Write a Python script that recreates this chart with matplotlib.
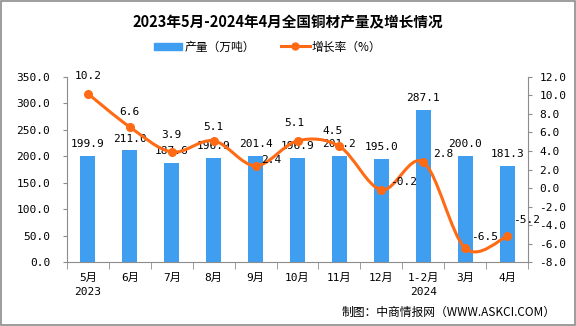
import matplotlib
matplotlib.use("Agg")
import matplotlib.pyplot as plt
import numpy as np
from matplotlib.path import Path
from matplotlib.patches import PathPatch, Patch, Rectangle
from matplotlib.lines import Line2D

plt.rcParams["font.family"] = ["DejaVu Sans Mono", "Noto Sans CJK SC"]

months = ["5月\n2023", "6月", "7月", "8月", "9月", "10月", "11月", "12月",
          "1-2月\n2024", "3月", "4月"]
output = [199.9, 211.0, 187.6, 196.9, 201.4, 196.9, 201.2, 195.0, 287.1, 200.0, 181.3]
growth = [10.2, 6.6, 3.9, 5.1, 2.4, 5.1, 4.5, -0.2, 2.8, -6.5, -5.2]

# label offsets for the growth labels (in points)
growth_offsets = [(0, 13), (0, 11), (0, 12), (0, 10), (11, 4), (-2, 13), (-5, 11),
                  (16, 6), (14, 6), (14, 8), (14, 12)]

BLUE = "#409EF0"
ORANGE = "#FF6A14"
GRAY = "#8c8c8c"


def smooth_path(xs, ys):
    # catmull-rom style bezier through the points
    pts = np.column_stack([xs, ys]).astype(float)
    n = len(pts)
    verts = [pts[0]]
    codes = [Path.MOVETO]
    for i in range(n - 1):
        p0 = pts[i - 1] if i > 0 else pts[i]
        p1 = pts[i]
        p2 = pts[i + 1]
        p3 = pts[i + 2] if i + 2 < n else pts[i + 1]
        c1 = p1 + (p2 - p0) / 6
        c2 = p2 - (p3 - p1) / 6
        verts += [c1, c2, p2]
        codes += [Path.CURVE4] * 3
    return Path(verts, codes)


def main():
    fig = plt.figure(figsize=(5.76, 3.26), dpi=100)
    ax = fig.add_axes([0.116, 0.196, 0.801, 0.568])
    ax2 = ax.twinx()

    x = np.arange(len(months))
    ax.bar(x, output, width=0.36, color=BLUE, zorder=2)
    for xi, v in zip(x, output):
        ax.annotate(f"{v:.1f}", (xi, v), xytext=(0, 5), textcoords="offset points",
                    ha="center", va="bottom", fontsize=8)

    ax.set_xlim(-0.5, len(months) - 0.5)
    ax.set_ylim(0, 350)
    ax.set_yticks(np.arange(0, 351, 50))
    ax.set_yticklabels([f"{v:.1f}" for v in np.arange(0, 351, 50)], fontsize=8)
    ax.set_xticks(x)
    ax.set_xticklabels(months, fontsize=8, linespacing=1.45)
    ax.set_xticks(np.arange(-0.5, len(months)), minor=True)
    ax.tick_params(axis="x", which="major", length=0, pad=8)
    ax.tick_params(axis="x", which="minor", length=5, color=GRAY)
    ax.tick_params(axis="y", length=3, color=GRAY, pad=9)

    ax2.set_ylim(-8, 12)
    ax2.set_yticks(np.arange(-8, 13, 2))
    ax2.set_yticklabels([f"{v:.1f}" for v in np.arange(-8, 13, 2)], fontsize=8)
    ax2.tick_params(axis="y", length=3, color=GRAY, pad=5)

    for a in (ax, ax2):
        a.spines["top"].set_visible(False)
        for s in ("left", "right", "bottom"):
            a.spines[s].set_color(GRAY)
    ax.spines["right"].set_visible(False)
    ax2.spines["left"].set_visible(False)
    ax2.spines["bottom"].set_visible(False)

    ax2.add_patch(PathPatch(smooth_path(x, growth), fill=False, ec=ORANGE, lw=2.2, zorder=3))
    ax2.plot(x, growth, "o", color=ORANGE, ms=5.5, zorder=4)
    for xi, v, off in zip(x, growth, growth_offsets):
        ax2.annotate(f"{v:.1f}", (xi, v), xytext=off, textcoords="offset points",
                     ha="center", va="center", fontsize=8)

    fig.text(0.5, 0.932, "2023年5月-2024年4月全国铜材产量及增长情况", ha="center",
             va="center", fontsize=10.5, fontweight="bold", family=["Noto Sans CJK SC"])

    handles = [Patch(color=BLUE), Line2D([], [], color=ORANGE, lw=2.2, marker="o", ms=5)]
    fig.legend(handles, ["产量（万吨）", "增长率（%）"], loc="center", bbox_to_anchor=(0.465, 0.856),
               ncol=2, frameon=False, handlelength=2.4, handleheight=0.6,
               handletextpad=0.2, columnspacing=2.2,
               prop={"family": ["Noto Sans CJK SC"], "size": 8.5})

    fig.text(0.965, 0.043, "制图：中商情报网（WWW.ASKCI.COM）", ha="right", va="center",
             fontsize=8.5, family=["Noto Sans CJK SC"])

    fig.add_artist(Rectangle((0.001, 0.002), 0.997, 0.996, transform=fig.transFigure,
                             fill=False, ec=GRAY, lw=1.2))

    fig.savefig("out.png", dpi=100)


if __name__ == "__main__":
    main()
